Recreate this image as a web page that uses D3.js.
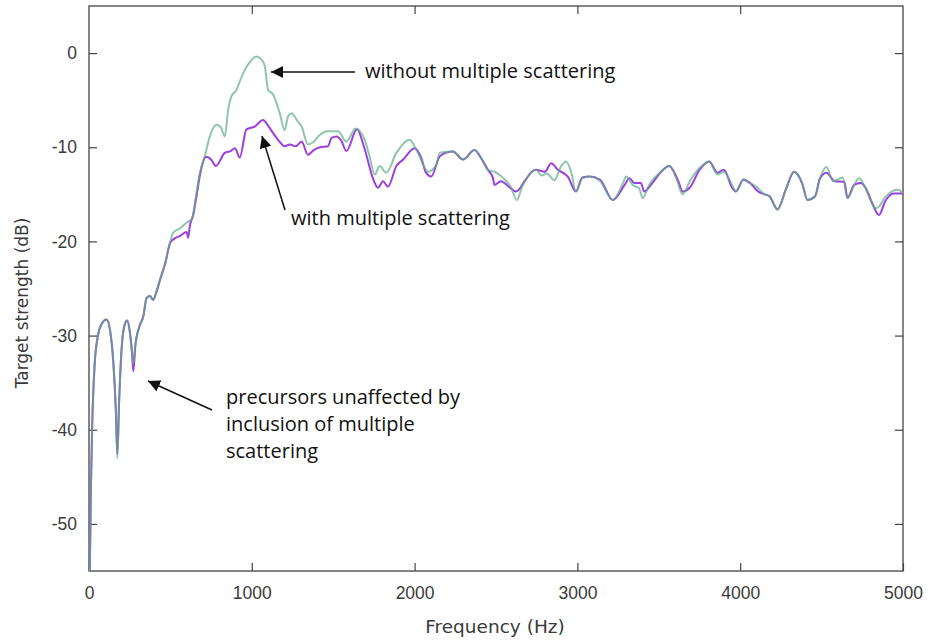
<meta charset="utf-8">
<script src="https://cdnjs.cloudflare.com/ajax/libs/d3/7.8.5/d3.min.js"></script>
<style>
  body { margin: 0; background: #fff; }
</style>
<svg id="chart"></svg>
<script>
// without multiple scattering (green)
const freqWithout = [5, 12, 20, 35, 55, 80, 108, 130, 150, 165, 174, 185, 200, 220, 235, 250, 265, 272, 285, 310, 333, 354, 374, 394, 415, 436, 470, 497, 517, 560, 609, 630, 660, 681, 712, 742, 783, 810, 834, 855, 875, 906, 926, 970, 1000, 1029, 1060, 1080, 1100, 1131, 1172, 1202, 1223, 1244, 1280, 1306, 1345, 1375, 1417, 1468, 1530, 1581, 1638, 1693, 1724, 1755, 1785, 1826, 1888, 1969, 2020, 2082, 2133, 2153, 2190, 2235, 2297, 2368, 2410, 2450, 2491, 2540, 2590, 2628, 2660, 2700, 2746, 2780, 2810, 2859, 2900, 2930, 2960, 2991, 3030, 3074, 3140, 3217, 3280, 3300, 3340, 3380, 3401, 3440, 3500, 3564, 3610, 3646, 3690, 3750, 3810, 3860, 3900, 3950, 3973, 4020, 4060, 4100, 4150, 4180, 4229, 4280, 4331, 4380, 4413, 4460, 4490, 4530, 4570, 4630, 4659, 4700, 4730, 4760, 4800, 4830, 4853, 4890, 4940, 4970, 5000];
const dbWithout = [-55, -46, -39.3, -33, -30, -28.7, -28.3, -29.5, -33, -38, -43, -37, -31.5, -28.8, -28.4, -29.5, -32, -33.0, -31, -29, -28.0, -26.0, -25.8, -26.2, -25.3, -24.1, -22.2, -20.2, -19.1, -18.6, -17.9, -17.7, -14.9, -12.7, -10.9, -8.85, -7.6, -7.9, -8.85, -6.0, -4.6, -3.9, -3.0, -1.4, -0.7, -0.36, -0.7, -1.4, -3.9, -4.4, -6.4, -8.2, -6.7, -6.4, -7.2, -7.8, -9.7, -9.5, -8.7, -8.3, -8.3, -9.4, -8.0, -9.2, -11.0, -12.9, -12.0, -12.7, -10.6, -9.2, -10.6, -12.6, -11.9, -10.6, -10.5, -10.45, -11.3, -10.3, -11.2, -12.4, -12.6, -13.2, -14.2, -15.6, -14.2, -13.0, -12.4, -13.0, -12.8, -13.5, -12.0, -11.5, -12.5, -14.7, -13.3, -13.1, -13.6, -15.6, -13.8, -13.1, -14.0, -14.4, -15.4, -14.0, -12.8, -12.0, -13.4, -15.0, -13.6, -12.2, -11.5, -12.9, -12.6, -14.0, -14.7, -13.4, -13.8, -14.2, -15.0, -15.2, -16.6, -14.5, -12.6, -13.8, -15.6, -15.2, -13.3, -12.1, -13.6, -13.2, -15.4, -14.0, -13.3, -14.0, -15.6, -16.5, -16.3, -15.3, -14.6, -14.5, -14.9];

// with multiple scattering (purple)
const freqWith = [5, 12, 20, 35, 55, 80, 108, 130, 150, 165, 174, 185, 200, 220, 235, 250, 265, 272, 285, 310, 333, 354, 374, 394, 415, 436, 470, 497, 517, 560, 600, 609, 620, 640, 660, 681, 712, 722, 750, 779, 834, 870, 896, 926, 967, 1018, 1069, 1100, 1131, 1170, 1202, 1233, 1270, 1306, 1345, 1380, 1420, 1468, 1490, 1520, 1550, 1581, 1646, 1690, 1744, 1775, 1806, 1836, 1888, 1930, 2000, 2040, 2070, 2102, 2153, 2190, 2235, 2297, 2368, 2410, 2450, 2480, 2491, 2530, 2580, 2623, 2680, 2720, 2746, 2800, 2839, 2880, 2940, 2991, 3030, 3074, 3140, 3217, 3290, 3319, 3350, 3390, 3410, 3460, 3510, 3564, 3620, 3646, 3690, 3750, 3810, 3860, 3900, 3950, 3973, 4020, 4060, 4110, 4150, 4180, 4229, 4280, 4331, 4380, 4413, 4460, 4490, 4530, 4580, 4640, 4659, 4700, 4740, 4770, 4810, 4853, 4890, 4940, 5000];
const dbWith = [-55, -46, -39.3, -33, -30, -28.7, -28.3, -29.5, -33, -38, -42.6, -37, -31.5, -28.8, -28.4, -29.5, -32, -33.8, -31, -29, -28.0, -26.0, -25.8, -26.2, -25.3, -24.1, -22.2, -20.2, -19.8, -19.4, -19.0, -19.6, -18.3, -17.2, -15.2, -13.0, -11.1, -11.0, -11.3, -12.0, -10.6, -10.4, -10.1, -11.1, -8.1, -7.8, -7.1, -7.7, -8.5, -9.4, -9.9, -9.7, -9.9, -9.4, -10.8, -10.3, -10.0, -9.9, -9.0, -8.85, -9.3, -10.4, -8.1, -10.0, -13.3, -14.3, -13.6, -14.2, -12.0, -11.3, -10.1, -11.1, -12.7, -13.1, -11.0, -10.6, -10.45, -11.3, -10.3, -11.2, -12.4, -13.2, -14.0, -13.6, -14.2, -14.7, -13.5, -12.6, -12.4, -12.6, -11.7, -12.4, -13.1, -14.7, -13.2, -13.1, -13.45, -15.6, -14.0, -13.3, -13.8, -13.8, -14.7, -13.8, -12.7, -12.0, -13.6, -14.7, -14.3, -12.4, -11.5, -12.7, -12.4, -14.3, -14.7, -13.45, -13.8, -14.7, -15.0, -15.2, -16.6, -14.5, -12.6, -13.8, -15.6, -15.2, -13.3, -12.7, -13.6, -13.7, -15.4, -14.0, -13.8, -14.3, -15.9, -17.2, -15.75, -14.9, -14.9];

const xTicks = [0, 1000, 2000, 3000, 4000, 5000];
const yTicks = [0, -10, -20, -30, -40, -50];

const width = 930, height = 641;
const margin = {top: 6, right: 27, bottom: 70, left: 89};
const w = width - margin.left - margin.right;
const h = height - margin.top - margin.bottom;

const svg = d3.select("#chart")
    .attr("width", width)
    .attr("height", height)
    .style("font-family", "'DejaVu Sans', sans-serif");

const g = svg.append("g").attr("transform", `translate(${margin.left},${margin.top})`);

const x = d3.scaleLinear().domain([0, 5000]).range([0, w]);
const y = d3.scaleLinear().domain([-55, 5]).range([h, 0]);

g.append("clipPath").attr("id", "clip")
  .append("rect").attr("width", w).attr("height", h);

// axes with inward ticks on all four sides
function styleAxis(sel) {
    sel.select(".domain").remove();
    sel.selectAll(".tick line").attr("stroke", "#444").attr("stroke-width", 1.2);
    sel.selectAll(".tick text").attr("fill", "#3a3a3a").style("font-size", "17.5px");
}
const plain = d => String(d);   // hyphen minus, no thousands comma

g.append("g").attr("transform", `translate(0,${h})`)
    .call(d3.axisBottom(x).tickValues(xTicks).tickSizeInner(-8).tickSizeOuter(0).tickPadding(16).tickFormat(plain))
    .call(styleAxis);
g.append("g")
    .call(d3.axisTop(x).tickValues(xTicks.slice(1, -1)).tickSizeInner(-8).tickSizeOuter(0).tickFormat(""))
    .call(styleAxis);
g.append("g")
    .call(d3.axisLeft(y).tickValues(yTicks).tickSizeInner(-8).tickSizeOuter(0).tickPadding(12).tickFormat(plain))
    .call(styleAxis);
g.append("g").attr("transform", `translate(${w},0)`)
    .call(d3.axisRight(y).tickValues(yTicks).tickSizeInner(-8).tickSizeOuter(0).tickFormat(""))
    .call(styleAxis);

g.append("rect")
    .attr("width", w).attr("height", h)
    .attr("fill", "none").attr("stroke", "#444").attr("stroke-width", 1.3);

const line = d3.line()
    .x(d => x(d[0]))
    .y(d => y(d[1]))
    .curve(d3.curveMonotoneX);

const lines = g.append("g").attr("clip-path", "url(#clip)").attr("fill", "none");
lines.append("path")
    .datum(d3.zip(freqWith, dbWith))
    .attr("d", line)
    .attr("stroke", "#9b3fe0")
    .attr("stroke-width", 2);
lines.append("path")
    .datum(d3.zip(freqWithout, dbWithout))
    .attr("d", line)
    .attr("stroke", "#5fae88")
    .attr("stroke-opacity", 0.7)
    .attr("stroke-width", 2);

// axis titles
svg.append("text")
    .attr("x", 495).attr("y", 633)
    .attr("text-anchor", "middle")
    .attr("fill", "#3a3a3a")
    .style("font-size", "18.5px")
    .text("Frequency (Hz)");
svg.append("text")
    .attr("transform", "translate(28,303) rotate(-90)")
    .attr("text-anchor", "middle")
    .attr("fill", "#3a3a3a")
    .style("font-size", "17px")
    .text("Target strength (dB)");

// annotations
svg.append("defs").append("marker")
    .attr("id", "head")
    .attr("viewBox", "0 0 12 12")
    .attr("refX", 12).attr("refY", 6)
    .attr("markerWidth", 12).attr("markerHeight", 12)
    .attr("markerUnits", "userSpaceOnUse")
    .attr("orient", "auto")
  .append("path").attr("d", "M0,0L12,6L0,12Z").attr("fill", "#111");

const arrows = [
    [355, 72, 271, 72],
    [285, 210, 262, 136],
    [212, 410, 148, 381]
];
svg.selectAll(".arrow").data(arrows).join("line")
    .attr("x1", d => d[0]).attr("y1", d => d[1])
    .attr("x2", d => d[2]).attr("y2", d => d[3])
    .attr("stroke", "#111").attr("stroke-width", 1.5)
    .attr("marker-end", "url(#head)");

const notes = [
    [365, 78, "without multiple scattering"],
    [291, 225, "with multiple scattering"],
    [226, 404, "precursors unaffected by"],
    [226, 431, "inclusion of multiple"],
    [226, 458, "scattering"]
];
svg.selectAll(".note").data(notes).join("text")
    .attr("x", d => d[0]).attr("y", d => d[1])
    .attr("fill", "#111")
    .style("font-family", "'Open Sans', sans-serif")
    .style("font-size", "20px")
    .text(d => d[2]);
</script>
